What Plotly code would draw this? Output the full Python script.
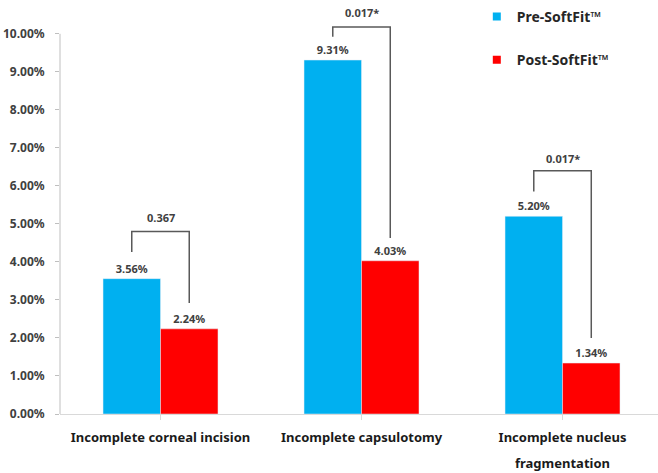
import plotly.graph_objects as go

categories = ["Incomplete corneal incision", "Incomplete capsulotomy", "Incomplete nucleus"]
category_second_line = ["", "", "fragmentation"]
pre_values = [3.56, 9.31, 5.20]
post_values = [2.24, 4.03, 1.34]
series_names = ["Pre-SoftFit™", "Post-SoftFit™"]
p_labels = ["0.367", "0.017*", "0.017*"]
# bracket levels (percent): top bar, left end, right end, label height
bracket_top = [4.80, 10.18, 6.40]
bracket_left = [4.26, 9.92, 5.85]
bracket_right = [2.92, 4.63, 2.00]
label_y = [5.18, 10.55, 6.72]
y_ticks = [0, 1, 2, 3, 4, 5, 6, 7, 8, 9, 10]
y_ticktext = [f"{v:.2f}%" for v in y_ticks]

BLUE = "#00B0F0"
RED = "#FF0000"
FONT = "Noto Sans"

fig = go.Figure()
for name, vals, col in [(series_names[0], pre_values, BLUE), (series_names[1], post_values, RED)]:
    fig.add_trace(go.Bar(
        x=list(range(len(categories))), y=vals, name=name, marker_color=col,
        text=[f"{v:.2f}%" for v in vals], textposition="outside",
        textfont=dict(size=11, color="#404040", family=FONT, weight="bold"),
        cliponaxis=False, showlegend=False,
    ))
    fig.add_trace(go.Scatter(
        x=[None], y=[None], mode="markers", name=name,
        marker=dict(symbol="square", size=8, color=col),
        legendgroup=name,
    ))

bargap = 0.428
half = (1 - bargap) / 4  # center offset of each bar within the group
for i in range(len(categories)):
    xl, xr = i - half, i + half
    line = dict(color="#595959", width=1.5)
    fig.add_shape(type="path",
                  path=f"M {xl},{bracket_left[i]} L {xl},{bracket_top[i]} L {xr},{bracket_top[i]} L {xr},{bracket_right[i]}",
                  xref="x", yref="y", line=line)
    fig.add_annotation(x=i, y=label_y[i], xref="x", yref="y", text=p_labels[i],
                       showarrow=False, font=dict(size=11, color="#404040", family=FONT, weight="bold"))
    if category_second_line[i]:
        fig.add_annotation(x=i, y=0, xref="x", yref="y", text=category_second_line[i],
                           showarrow=False, yanchor="middle", yshift=-49,
                           font=dict(size=13, color="#1a1a1a", family=FONT, weight="bold"))

# y axis line drawn up to 10%
fig.add_shape(type="line", xref="paper", yref="y", x0=0, x1=0, y0=0, y1=10,
              line=dict(color="#BFBFBF", width=1))

fig.update_layout(
    width=658, height=473,
    margin=dict(l=60, r=0, t=11, b=59),
    paper_bgcolor="white", plot_bgcolor="white",
    barmode="group", bargap=bargap, bargroupgap=0,
    font=dict(family=FONT, weight="bold", color="#262626"),
    legend=dict(x=0.697, y=1.025, xanchor="left", yanchor="top",
                font=dict(size=14, color="#262626", family=FONT, weight="bold"),
                tracegroupgap=22, traceorder="grouped", itemwidth=30,
                bgcolor="rgba(0,0,0,0)"),
    xaxis=dict(
        tickvals=list(range(len(categories))), ticktext=categories,
        range=[-0.5, 2.475], showline=True, linecolor="#D9D9D9", linewidth=1,
        ticks="outside", tickson="boundaries", ticklen=5, tickcolor="#D9D9D9",
        ticklabelstandoff=6,
        tickfont=dict(size=13, color="#1a1a1a", family=FONT, weight="bold"),
        showgrid=False, zeroline=False,
    ),
    yaxis=dict(
        range=[0, 10.6], tickvals=y_ticks, ticktext=y_ticktext,
        showline=False, ticks="outside", ticklen=4, tickcolor="#BFBFBF",
        ticklabelstandoff=8,
        tickfont=dict(size=12, color="#404040", family=FONT, weight="bold"),
        showgrid=False, zeroline=False,
    ),
)

fig.write_html("out.html")
